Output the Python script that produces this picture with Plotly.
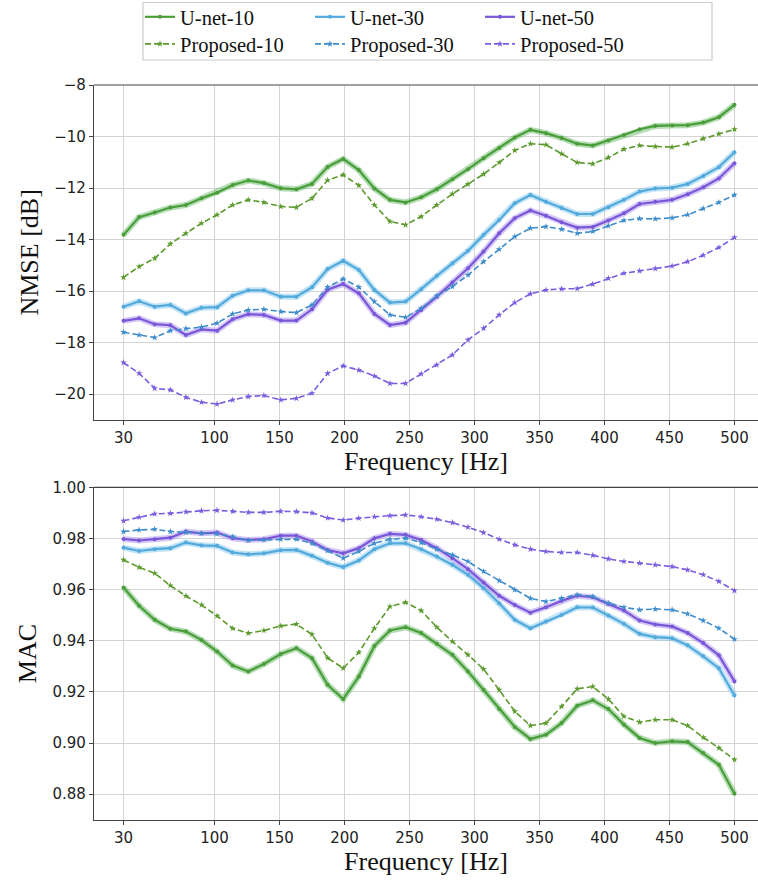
import plotly.graph_objects as go
from plotly.subplots import make_subplots

freq = [30, 42, 54, 66, 78, 90, 102, 114, 126, 138, 151, 163, 175, 187, 199, 211, 223, 235, 247, 259,
        271, 283, 295, 307, 319, 331, 343, 355, 367, 379, 391, 403, 415, 427, 439, 452, 464, 476, 488, 500]

nmse_unet10 = [-13.82, -13.13, -12.95, -12.76, -12.66, -12.40, -12.18, -11.88, -11.71, -11.81, -12.01, -12.05, -11.84, -11.18,
               -10.87, -11.30, -12.02, -12.46, -12.56, -12.36, -12.05, -11.66, -11.27, -10.84, -10.45, -10.04, -9.74,
               -9.87, -10.06, -10.28, -10.35, -10.16, -9.94, -9.72, -9.59, -9.57, -9.56, -9.46, -9.25, -8.77]
nmse_prop10 = [-15.47, -15.05, -14.73, -14.17, -13.76, -13.37, -13.04, -12.66, -12.46, -12.56, -12.72, -12.75, -12.40, -11.70,
               -11.49, -11.90, -12.66, -13.30, -13.43, -13.11, -12.66, -12.23, -11.85, -11.46, -11.01, -10.54, -10.28,
               -10.32, -10.67, -11.01, -11.06, -10.82, -10.49, -10.35, -10.39, -10.41, -10.28, -10.08, -9.90, -9.72]
nmse_unet30 = [-16.61, -16.40, -16.61, -16.54, -16.87, -16.65, -16.63, -16.18, -15.97, -15.97, -16.22, -16.22, -15.85, -15.15,
               -14.83, -15.18, -15.96, -16.45, -16.41, -15.93, -15.41, -14.92, -14.44, -13.82, -13.24, -12.59, -12.27,
               -12.53, -12.78, -13.01, -13.01, -12.75, -12.46, -12.14, -12.02, -11.99, -11.84, -11.53, -11.19, -10.61]
nmse_unet50 = [-17.16, -17.06, -17.29, -17.33, -17.71, -17.49, -17.54, -17.10, -16.90, -16.93, -17.15, -17.15, -16.71, -15.95,
               -15.73, -16.09, -16.89, -17.32, -17.23, -16.74, -16.22, -15.67, -15.12, -14.47, -13.76, -13.17, -12.87,
               -13.08, -13.33, -13.54, -13.51, -13.26, -12.98, -12.62, -12.53, -12.46, -12.24, -11.97, -11.63, -11.04]
nmse_prop30 = [-17.60, -17.71, -17.81, -17.54, -17.46, -17.40, -17.25, -16.89, -16.74, -16.71, -16.80, -16.84, -16.54, -15.85,
               -15.53, -15.85, -16.41, -16.93, -17.02, -16.67, -16.19, -15.83, -15.38, -14.86, -14.38, -13.89, -13.56,
               -13.50, -13.60, -13.76, -13.69, -13.47, -13.26, -13.19, -13.20, -13.16, -13.04, -12.80, -12.56, -12.27]
nmse_prop50 = [-18.78, -19.20, -19.78, -19.84, -20.13, -20.32, -20.39, -20.23, -20.10, -20.06, -20.23, -20.17, -19.97, -19.20,
               -18.91, -19.07, -19.30, -19.59, -19.59, -19.22, -18.87, -18.48, -17.90, -17.45, -16.93, -16.45, -16.11,
               -15.96, -15.92, -15.91, -15.73, -15.51, -15.31, -15.22, -15.13, -15.03, -14.86, -14.61, -14.31, -13.92]

mac_unet10 = [0.9608, 0.9537, 0.9482, 0.9447, 0.9436, 0.9403, 0.9358, 0.9303, 0.9280, 0.9309, 0.9348, 0.9371, 0.9332, 0.9228,
              0.9172, 0.9260, 0.9380, 0.9440, 0.9453, 0.9430, 0.9388, 0.9345, 0.9280, 0.9208, 0.9133, 0.9063, 0.9016,
              0.9033, 0.9078, 0.9146, 0.9167, 0.9133, 0.9072, 0.9020, 0.9000, 0.9007, 0.9004, 0.8961, 0.8915, 0.8802]
mac_prop10 = [0.9716, 0.9687, 0.9664, 0.9616, 0.9575, 0.9540, 0.9497, 0.9448, 0.9430, 0.9440, 0.9458, 0.9465, 0.9425, 0.9333,
              0.9293, 0.9354, 0.9449, 0.9534, 0.9550, 0.9518, 0.9453, 0.9397, 0.9345, 0.9289, 0.9208, 0.9124, 0.9068,
              0.9078, 0.9143, 0.9212, 0.9221, 0.9172, 0.9104, 0.9082, 0.9091, 0.9091, 0.9068, 0.9022, 0.8981, 0.8935]
mac_unet30 = [0.9764, 0.9751, 0.9758, 0.9762, 0.9784, 0.9773, 0.9771, 0.9745, 0.9738, 0.9742, 0.9754, 0.9755, 0.9732, 0.9705,
              0.9688, 0.9714, 0.9758, 0.9781, 0.9781, 0.9758, 0.9729, 0.9697, 0.9658, 0.9606, 0.9547, 0.9482, 0.9449,
              0.9475, 0.9501, 0.9531, 0.9530, 0.9499, 0.9466, 0.9427, 0.9414, 0.9410, 0.9382, 0.9339, 0.9293, 0.9186]
mac_unet50 = [0.9798, 0.9792, 0.9797, 0.9803, 0.9827, 0.9820, 0.9823, 0.9801, 0.9794, 0.9797, 0.9811, 0.9811, 0.9788, 0.9755,
              0.9742, 0.9762, 0.9801, 0.9818, 0.9814, 0.9794, 0.9762, 0.9723, 0.9680, 0.9628, 0.9576, 0.9540, 0.9510,
              0.9531, 0.9556, 0.9576, 0.9570, 0.9544, 0.9518, 0.9479, 0.9464, 0.9456, 0.9430, 0.9391, 0.9343, 0.9241]
mac_prop30 = [0.9827, 0.9833, 0.9836, 0.9827, 0.9824, 0.9820, 0.9818, 0.9807, 0.9792, 0.9794, 0.9797, 0.9797, 0.9781, 0.9752,
              0.9723, 0.9749, 0.9781, 0.9797, 0.9801, 0.9784, 0.9758, 0.9736, 0.9710, 0.9671, 0.9635, 0.9599, 0.9566,
              0.9553, 0.9566, 0.9580, 0.9573, 0.9547, 0.9531, 0.9521, 0.9524, 0.9521, 0.9505, 0.9479, 0.9449, 0.9406]
mac_prop50 = [0.9869, 0.9883, 0.9896, 0.9898, 0.9904, 0.9908, 0.9910, 0.9906, 0.9902, 0.9902, 0.9906, 0.9905, 0.9900, 0.9880,
              0.9872, 0.9879, 0.9885, 0.9889, 0.9892, 0.9885, 0.9875, 0.9862, 0.9844, 0.9823, 0.9797, 0.9775, 0.9758,
              0.9749, 0.9745, 0.9745, 0.9734, 0.9720, 0.9710, 0.9703, 0.9697, 0.9690, 0.9677, 0.9658, 0.9632, 0.9596]

x_ticks = [30, 100, 150, 200, 250, 300, 350, 400, 450, 500]
nmse_ticks = [-20, -18, -16, -14, -12, -10, -8]
mac_ticks = [0.88, 0.90, 0.92, 0.94, 0.96, 0.98, 1.00]

unet_styles = [
    ("U-net-10", "#4a9e3a", "rgba(90,180,90,0.45)", nmse_unet10, mac_unet10),
    ("U-net-30", "#52a9dc", "rgba(120,195,235,0.45)", nmse_unet30, mac_unet30),
    ("U-net-50", "#7a56d8", "rgba(160,135,235,0.45)", nmse_unet50, mac_unet50),
]
prop_styles = [
    ("Proposed-10", "#5b9a2c", nmse_prop10, mac_prop10),
    ("Proposed-30", "#3d8ccc", nmse_prop30, mac_prop30),
    ("Proposed-50", "#7b5de0", nmse_prop50, mac_prop50),
]

fig = make_subplots(rows=2, cols=1)

for row in (1, 2):
    for name, col, halo, nm, mc in unet_styles:
        y = nm if row == 1 else mc
        fig.add_trace(go.Scatter(x=freq, y=y, mode="lines", line=dict(color=halo, width=6),
                                 showlegend=False, hoverinfo="skip"), row=row, col=1)

for row in (1, 2):
    for name, col, halo, nm, mc in unet_styles:
        y = nm if row == 1 else mc
        fig.add_trace(go.Scatter(x=freq, y=y, mode="lines+markers", name=name,
                                 line=dict(color=col, width=2.2), marker=dict(color=col, size=4),
                                 legend="legend", showlegend=(row == 1)), row=row, col=1)
    for name, col, nm, mc in prop_styles:
        y = nm if row == 1 else mc
        fig.add_trace(go.Scatter(x=freq, y=y, mode="lines+markers", name=name,
                                 line=dict(color=col, width=1.6, dash="6px,3px"),
                                 marker=dict(color=col, size=5, symbol="star"),
                                 legend="legend2", showlegend=(row == 1)), row=row, col=1)

serif = "Liberation Serif, Times New Roman, serif"
sans = "DejaVu Sans, sans-serif"
axis_common = dict(showgrid=True, gridcolor="#d4d4d4", gridwidth=1, showline=True, linecolor="#444",
                   linewidth=1.2, ticks="outside", ticklen=4, tickcolor="#444",
                   tickfont=dict(family=sans, size=15, color="#222"), zeroline=False)

W, H, L = 758, 882, 94
for ax in ("xaxis", "xaxis2"):
    fig.layout[ax].update(**axis_common, range=[7.3, 518.1], tickvals=x_ticks,
                          title=dict(text="Frequency [Hz]", font=dict(family=serif, size=26, color="#111"), standoff=4),
                          domain=[0, 1])
fig.layout.yaxis.update(**axis_common, range=[-21, -8], tickvals=nmse_ticks,
                        domain=[1 - 419.75 / H, 1 - 85 / H],
                        title=dict(text="NMSE [dB]", font=dict(family=serif, size=26, color="#111"), standoff=8))
fig.layout.yaxis2.update(**axis_common, range=[0.87, 1.0], tickvals=mac_ticks, tickformat=".2f",
                         domain=[1 - 819.8 / H, 1 - 487.3 / H],
                         title=dict(text="MAC", font=dict(family=serif, size=26, color="#111"), standoff=8))

for xr, yr in (("x domain", "y domain"), ("x2 domain", "y2 domain")):
    fig.add_shape(type="line", xref=xr, yref=yr, x0=0, x1=1, y0=1, y1=1, line=dict(color="#444", width=1.2))

def px(v):
    return (v - L) / (W - L)

def py(v):
    return 1 - v / H

fig.add_shape(type="rect", xref="paper", yref="paper", x0=px(143), x1=px(712), y0=py(60), y1=py(2.5),
              line=dict(color="#cccccc", width=1.2), fillcolor="white", layer="below")

leg_font = dict(family=serif, size=20.5, color="#111")
fig.update_layout(
    width=W, height=H, margin=dict(l=L, r=0, t=0, b=0, autoexpand=False),
    paper_bgcolor="white", plot_bgcolor="white",
    legend=dict(orientation="h", xref="paper", yref="container", x=px(140), y=1 - 17 / H,
                xanchor="left", yanchor="middle", font=leg_font, entrywidth=125, bgcolor="rgba(0,0,0,0)",
                tracegroupgap=0),
    legend2=dict(orientation="h", xref="paper", yref="container", x=px(140), y=1 - 44 / H,
                 xanchor="left", yanchor="middle", font=leg_font, entrywidth=125, bgcolor="rgba(0,0,0,0)",
                 tracegroupgap=0),
)

fig.write_html("out.html", config={"displayModeBar": False},
               post_script="document.body.style.margin='0px';")
